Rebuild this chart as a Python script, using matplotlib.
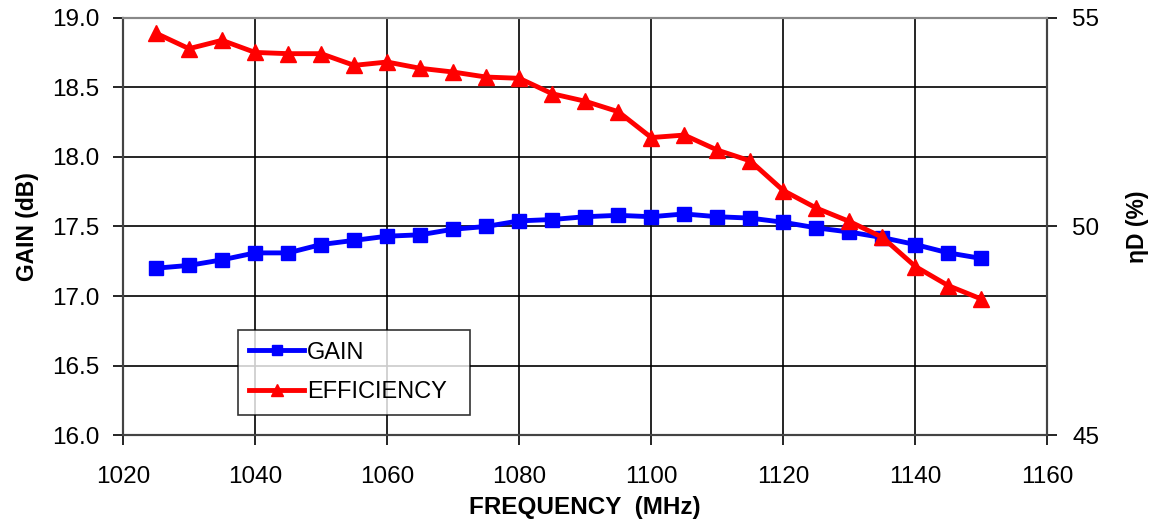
import matplotlib
matplotlib.use("Agg")
import matplotlib.pyplot as plt
import numpy as np

plt.rcParams['font.family'] = ['Liberation Sans', 'DejaVu Sans']

freq = [1025, 1030, 1035, 1040, 1045, 1050, 1055, 1060, 1065, 1070, 1075, 1080, 1085,
        1090, 1095, 1100, 1105, 1110, 1115, 1120, 1125, 1130, 1135, 1140, 1145, 1150]
gain = [17.20, 17.22, 17.26, 17.31, 17.31, 17.37, 17.40, 17.43, 17.44, 17.48, 17.50, 17.54, 17.55,
        17.57, 17.58, 17.57, 17.59, 17.57, 17.56, 17.53, 17.49, 17.46, 17.42, 17.37, 17.31, 17.27]
eff = [54.63, 54.26, 54.46, 54.17, 54.14, 54.14, 53.86, 53.94, 53.79, 53.70, 53.58, 53.55, 53.18,
       53.00, 52.75, 52.13, 52.19, 51.83, 51.57, 50.86, 50.44, 50.12, 49.74, 49.04, 48.58, 48.26]

fig, ax = plt.subplots(figsize=(11.6, 5.23), dpi=100)
fig.subplots_adjust(left=0.106, right=0.903, top=0.966, bottom=0.168)

ax.set_xlim(1020, 1160)
ax.set_ylim(16.0, 19.0)
ax.set_xticks(np.arange(1020, 1161, 20))
ax.set_yticks(np.arange(16.0, 19.01, 0.5))
ax.yaxis.set_major_formatter(matplotlib.ticker.FormatStrFormatter('%.1f'))
ax.grid(True, color='black', linewidth=1.2)
ax.set_axisbelow(True)
for s in ax.spines.values():
    s.set_color('#444444')
    s.set_linewidth(1.5)
ax.spines['top'].set_color('#888888')
ax.tick_params(axis='y', labelsize=17.5, length=7, width=1.2, direction='out', pad=10)
ax.tick_params(axis='x', labelsize=17.5, length=7, width=1.2, direction='out', pad=15)

l1, = ax.plot(freq, gain, color='#0000ff', lw=3.5, marker='s', ms=10, label='GAIN')

ax2 = ax.twinx()
ax2.set_ylim(45, 55)
ax2.set_yticks([45, 50, 55])
ax2.tick_params(labelsize=17.5, length=7, width=1.2, direction='out', pad=11)
for s in ax2.spines.values():
    s.set_color('#444444')
    s.set_linewidth(1.5)
ax2.spines['top'].set_color('#888888')
l2, = ax2.plot(freq, eff, color='#ff0000', lw=3.5, marker='^', ms=11, label='EFFICIENCY')

ax.set_xlabel('FREQUENCY  (MHz)', fontsize=17.5, fontweight='bold', labelpad=6)
ax.set_ylabel('GAIN (dB)', fontsize=16.5, fontweight='bold', labelpad=9)
ax2.set_ylabel('ηD (%)', fontsize=16.5, fontweight='bold', labelpad=19)

leg = ax2.legend([l1, l2], ['GAIN', 'EFFICIENCY'], loc='lower left',
                 bbox_to_anchor=(0.124, 0.048, 0.251, 0.204), mode='expand',
                 borderaxespad=0, fontsize=17, frameon=True, fancybox=False,
                 handlelength=2.3, handletextpad=0.15, labelspacing=0.75,
                 borderpad=0.5, markerscale=0.75)
leg.get_frame().set_edgecolor('black')
leg.get_frame().set_linewidth(1.2)

fig.savefig('out.png', dpi=100)
